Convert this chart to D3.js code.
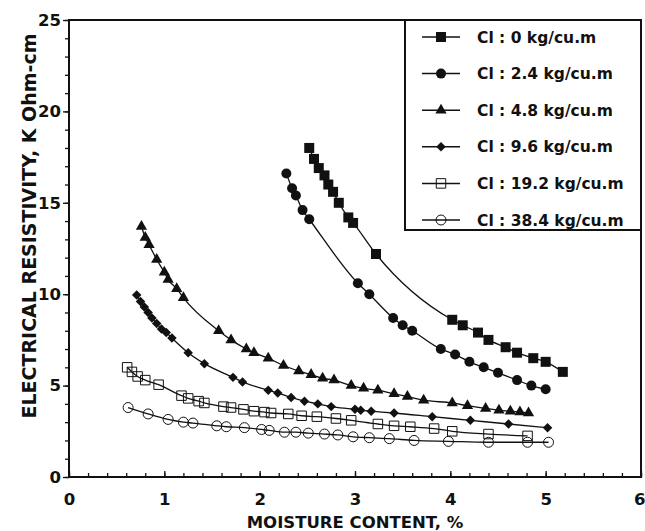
<!DOCTYPE html>
<html>
<head>
<meta charset="utf-8">
<script src="https://cdn.jsdelivr.net/npm/d3@7"></script>
<style>
  body { margin: 0; background: #fff; }
  text { font-family: "DejaVu Sans", sans-serif; font-weight: bold; fill: #111; }
</style>
</head>
<body>
<div id="chart-area"></div>
<script>
// values (moisture %, resistivity K Ohm-cm)
const seriesNames = ["Cl : 0 kg/cu.m", "Cl : 2.4 kg/cu.m", "Cl : 4.8 kg/cu.m",
    "Cl : 9.6 kg/cu.m", "Cl : 19.2 kg/cu.m", "Cl : 38.4 kg/cu.m"]

const moist0 = [2.52, 2.57, 2.62, 2.68, 2.72, 2.77, 2.83, 2.93, 2.98, 3.22, 4.02, 4.13, 4.29, 4.40, 4.58, 4.70, 4.87, 5.00, 5.18]
const res0 = [18.0, 17.4, 16.9, 16.5, 16.0, 15.6, 15.0, 14.2, 13.9, 12.2, 8.6, 8.3, 7.9, 7.5, 7.1, 6.8, 6.5, 6.3, 5.75]

const moist1 = [2.28, 2.34, 2.38, 2.45, 2.52, 3.03, 3.15, 3.40, 3.50, 3.60, 3.90, 4.05, 4.20, 4.35, 4.50, 4.70, 4.85, 5.00]
const res1 = [16.6, 15.8, 15.4, 14.6, 14.1, 10.6, 10.0, 8.7, 8.3, 8.0, 7.0, 6.7, 6.3, 6.0, 5.7, 5.3, 5.0, 4.8]

const moist2 = [0.76, 0.80, 0.84, 0.92, 1.00, 1.04, 1.13, 1.20, 1.57, 1.70, 1.86, 1.94, 2.09, 2.25, 2.41, 2.54, 2.66, 2.78,
    2.96, 3.09, 3.24, 3.41, 3.55, 3.72, 4.02, 4.18, 4.37, 4.51, 4.63, 4.73, 4.82]
const res2 = [13.7, 13.1, 12.7, 11.9, 11.2, 10.8, 10.3, 9.8, 8.0, 7.5, 7.0, 6.8, 6.5, 6.1, 5.8, 5.6, 5.4, 5.3,
    5.0, 4.85, 4.75, 4.55, 4.4, 4.2, 4.05, 3.9, 3.75, 3.65, 3.6, 3.55, 3.5]

const moist3 = [0.71, 0.75, 0.79, 0.83, 0.87, 0.92, 0.97, 1.02, 1.08, 1.25, 1.42, 1.72, 1.82, 2.09, 2.19, 2.33, 2.47, 2.61,
    2.75, 3.00, 3.06, 3.17, 3.41, 3.81, 4.21, 4.61, 5.02]
const res3 = [9.95, 9.6, 9.3, 9.0, 8.7, 8.4, 8.1, 7.9, 7.6, 6.8, 6.2, 5.45, 5.2, 4.75, 4.6, 4.35, 4.15, 4.0,
    3.85, 3.7, 3.65, 3.6, 3.5, 3.3, 3.1, 2.9, 2.7]

const moist4 = [0.61, 0.66, 0.72, 0.80, 0.94, 1.18, 1.25, 1.36, 1.42, 1.62, 1.70, 1.83, 1.94, 2.05, 2.12, 2.30, 2.44, 2.60,
    2.80, 2.96, 3.24, 3.41, 3.58, 3.83, 4.02, 4.40, 4.81]
const res4 = [6.0, 5.75, 5.5, 5.3, 5.05, 4.45, 4.3, 4.15, 4.05, 3.85, 3.8, 3.7, 3.6, 3.55, 3.5, 3.45, 3.35, 3.3,
    3.2, 3.1, 2.9, 2.8, 2.75, 2.65, 2.5, 2.35, 2.25]

const moist5 = [0.62, 0.83, 1.04, 1.20, 1.30, 1.55, 1.65, 1.84, 2.02, 2.10, 2.26, 2.38, 2.51, 2.68, 2.82, 2.98, 3.15, 3.36,
    3.62, 3.98, 4.40, 4.81, 5.03]
const res5 = [3.8, 3.45, 3.15, 3.0, 2.95, 2.8, 2.75, 2.7, 2.6, 2.55, 2.45, 2.45, 2.4, 2.35, 2.3, 2.2, 2.15, 2.1,
    2.0, 1.95, 1.9, 1.9, 1.9]

const xTicks = [0, 1, 2, 3, 4, 5, 6]
const yTicks = [0, 5, 10, 15, 20, 25]

const moistAll = [moist0, moist1, moist2, moist3, moist4, moist5]
const resAll = [res0, res1, res2, res3, res4, res5]
const markerType = ["square", "circle", "triangle", "diamond", "openSquare", "openCircle"]

let WIDTH = 645
let HEIGHT = 531
let PLOT = {LEFT: 69, RIGHT: 641, TOP: 20, BOTTOM: 477}

let svg = d3.select("#chart-area").append("svg")
    .attr("width", WIDTH)
    .attr("height", HEIGHT)

let x = d3.scaleLinear().domain([0, 6]).range([PLOT.LEFT, PLOT.RIGHT])
let y = d3.scaleLinear().domain([0, 25]).range([PLOT.BOTTOM, PLOT.TOP])

// minor ticks
svg.append("g")
    .attr("transform", `translate(${PLOT.LEFT},0)`)
    .call(d3.axisLeft(y).tickValues(d3.range(0, 26, 1)).tickSize(4).tickFormat(""))
    .call(g => g.select(".domain").remove())
svg.append("g")
    .attr("transform", `translate(0,${PLOT.BOTTOM})`)
    .call(d3.axisBottom(x).tickValues(d3.range(0, 6.01, 0.2)).tickSize(-4).tickFormat(""))
    .call(g => g.select(".domain").remove())

// major ticks + labels
let yAxis = svg.append("g")
    .attr("transform", `translate(${PLOT.LEFT},0)`)
    .call(d3.axisLeft(y).tickValues(yTicks).tickSize(6).tickPadding(2).tickFormat(d3.format("d")))
yAxis.select(".domain").remove()
yAxis.selectAll("text").attr("font-size", "16.5px")

let xAxis = svg.append("g")
    .attr("transform", `translate(0,${PLOT.BOTTOM})`)
    .call(d3.axisBottom(x).tickValues(xTicks).tickSize(-6).tickPadding(16).tickFormat(d3.format("d")))
xAxis.select(".domain").remove()
xAxis.selectAll("text").attr("font-size", "16.5px")
// last label sits on the right edge of the page, keep it inside
xAxis.selectAll("text").filter(d => d === 6).attr("text-anchor", "end").attr("x", 4)
svg.selectAll(".tick line").attr("stroke", "#111").attr("stroke-width", 1.3)

// frame
svg.append("rect")
    .attr("x", PLOT.LEFT).attr("y", PLOT.TOP)
    .attr("width", PLOT.RIGHT - PLOT.LEFT).attr("height", PLOT.BOTTOM - PLOT.TOP)
    .attr("fill", "none").attr("stroke", "#111").attr("stroke-width", 2)

// axis titles
svg.append("text")
    .attr("x", (PLOT.LEFT + PLOT.RIGHT) / 2)
    .attr("y", 528)
    .attr("text-anchor", "middle")
    .attr("font-size", "16.5px")
    .text("MOISTURE CONTENT, %")

svg.append("text")
    .attr("transform", "translate(29,226) rotate(-90)")
    .attr("dy", "0.36em")
    .attr("text-anchor", "middle")
    .attr("font-size", "19px")
    .text("ELECTRICAL RESISTIVITY, K Ohm-cm")

function drawMarker(sel, type) {
    if (type === "square") {
        sel.append("path").attr("d", d3.symbol(d3.symbolSquare, 100)()).attr("fill", "#111")
    } else if (type === "circle") {
        sel.append("circle").attr("r", 5).attr("fill", "#111")
    } else if (type === "triangle") {
        sel.append("path").attr("d", d3.symbol(d3.symbolTriangle, 55)()).attr("fill", "#111")
    } else if (type === "diamond") {
        sel.append("path").attr("d", d3.symbol(d3.symbolSquare, 45)())
            .attr("transform", "rotate(45)").attr("fill", "#111")
    } else if (type === "openSquare") {
        sel.append("path").attr("d", d3.symbol(d3.symbolSquare, 90)())
            .attr("fill", "none").attr("stroke", "#111").attr("stroke-width", 1)
    } else {
        sel.append("circle").attr("r", 5)
            .attr("fill", "none").attr("stroke", "#111").attr("stroke-width", 1)
    }
}

let line = d3.line()
    .x(d => x(d[0]))
    .y(d => y(d[1]))
    .curve(d3.curveMonotoneX)

moistAll.forEach((mx, i) => {
    let pts = mx.map((m, j) => [m, resAll[i][j]])
    svg.append("path")
        .datum(pts)
        .attr("d", line)
        .attr("fill", "none")
        .attr("stroke", "#111")
        .attr("stroke-width", 1.3)

    svg.append("g").selectAll("g")
        .data(pts)
        .enter().append("g")
        .attr("transform", d => `translate(${x(d[0])},${y(d[1])})`)
        .each(function () { drawMarker(d3.select(this), markerType[i]) })
})

// legend
let legend = svg.append("g")
legend.append("rect")
    .attr("x", 405).attr("y", PLOT.TOP)
    .attr("width", PLOT.RIGHT - 405).attr("height", 210)
    .attr("fill", "#fff").attr("stroke", "#111").attr("stroke-width", 2)

seriesNames.forEach((name, i) => {
    let ly = 37 + i * 36.6
    legend.append("line")
        .attr("x1", 422).attr("x2", 460).attr("y1", ly).attr("y2", ly)
        .attr("stroke", "#111").attr("stroke-width", 1.5)
    let m = legend.append("g").attr("transform", `translate(441,${ly})`)
    drawMarker(m, markerType[i])
    legend.append("text")
        .attr("x", 477).attr("y", ly)
        .attr("dy", "0.36em")
        .attr("font-size", "15.5px")
        .text(name)
})
</script>
</body>
</html>
